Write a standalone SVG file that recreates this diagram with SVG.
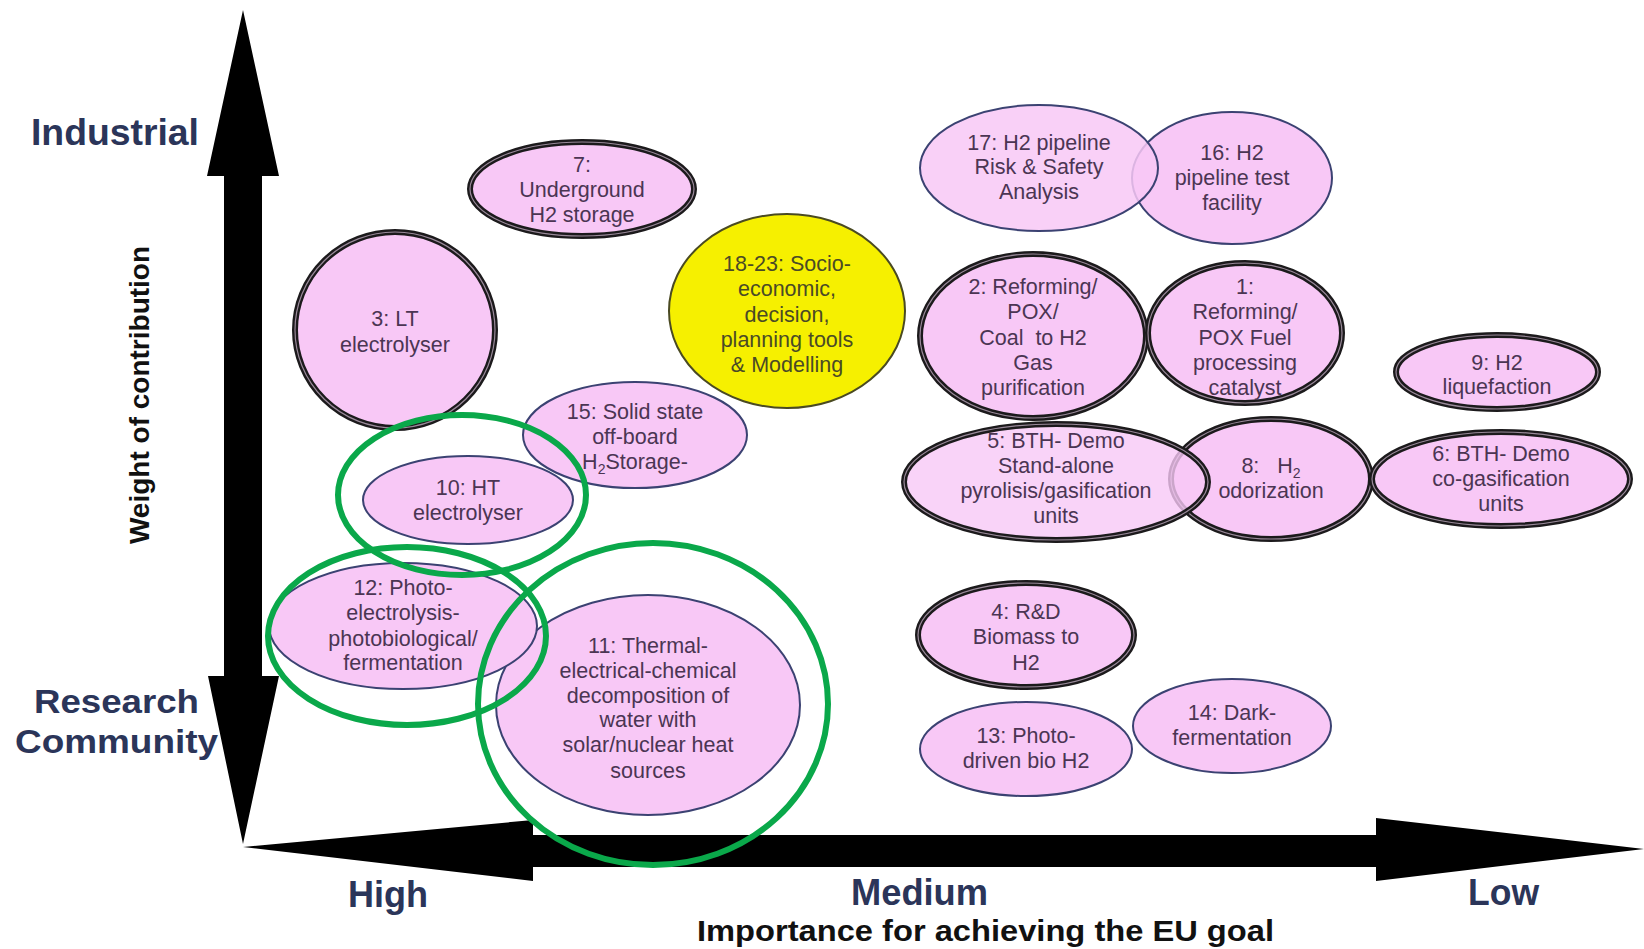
<svg xmlns="http://www.w3.org/2000/svg" width="1644" height="949" viewBox="0 0 1644 949">
<style>
.bg{fill:#ffffff}
.p{fill:#f8c8f6}
.thin{stroke:#3b4272;stroke-width:2}
.dbl{stroke:#1c1a1c;stroke-width:6}
.dbl2{fill:none;stroke:#9a8a9a;stroke-width:1.2}
.y{fill:#f6f000;stroke:#4a4a22;stroke-width:2}
.g{fill:none;stroke:#0aa84a;stroke-width:6}
.t{font-family:"Liberation Sans",Arial,sans-serif;font-size:21.5px;fill:#4b3553;text-anchor:middle}
.ty{font-family:"Liberation Sans",Arial,sans-serif;font-size:21.5px;fill:#4a4a26;text-anchor:middle}
.lab{font-family:"Liberation Sans",Arial,sans-serif;font-weight:bold;fill:#2b3559}
.ax{font-family:"Liberation Sans",Arial,sans-serif;font-weight:bold;fill:#111111}
</style>
<rect class="bg" x="0" y="0" width="1644" height="949"/>
<g id="connectors">
<polygon fill="#000" points="243,10 279,176 262,176 262,676 279,676 243,844 208,676 224,676 224,176 207,176"/>
<polygon fill="#000" points="243,847 533,820 533,835 1376,835 1376,818 1644,849 1376,881 1376,867 533,867 533,881"/>
</g>
<g id="labels">
<text class="lab" x="31" y="145" font-size="36" textLength="168" lengthAdjust="spacingAndGlyphs">Industrial</text>
<text class="lab" x="34" y="713" font-size="34" textLength="165" lengthAdjust="spacingAndGlyphs">Research</text>
<text class="lab" x="15" y="753" font-size="34" textLength="203" lengthAdjust="spacingAndGlyphs">Community</text>
<text class="ax" transform="translate(149,395) rotate(-90)" font-size="28" text-anchor="middle">Weight of contribution</text>
<text class="lab" x="348" y="907" font-size="37" textLength="80" lengthAdjust="spacingAndGlyphs">High</text>
<text class="lab" x="851" y="905" font-size="37" textLength="137" lengthAdjust="spacingAndGlyphs">Medium</text>
<text class="lab" x="1468" y="905" font-size="37" textLength="71" lengthAdjust="spacingAndGlyphs">Low</text>
<text class="ax" x="697" y="941" font-size="30" textLength="577" lengthAdjust="spacingAndGlyphs">Importance for achieving the EU goal</text>
</g>
<g id="n7">
<ellipse class="p dbl" cx="582" cy="189" rx="112" ry="47"/><ellipse class="dbl2" cx="582" cy="189" rx="112" ry="47"/>
<text class="t"><tspan x="582" y="172">7:</tspan><tspan x="582" y="197">Underground</tspan><tspan x="582" y="222">H2 storage</tspan></text>
</g>
<g id="n3">
<ellipse class="p dbl" cx="395" cy="330" rx="100" ry="98"/><ellipse class="dbl2" cx="395" cy="330" rx="100" ry="98"/>
<text class="t"><tspan x="395" y="326">3: LT</tspan><tspan x="395" y="352">electrolyser</tspan></text>
</g>
<g id="n18">
<ellipse class="y" cx="787" cy="311" rx="118" ry="97"/>
<text class="ty"><tspan x="787" y="271">18-23: Socio-</tspan><tspan x="787" y="296">economic,</tspan><tspan x="787" y="322">decision,</tspan><tspan x="787" y="347">planning tools</tspan><tspan x="787" y="372">&amp; Modelling</tspan></text>
</g>
<g id="n15">
<ellipse class="p thin" cx="635" cy="435" rx="112" ry="53"/>
<text class="t"><tspan x="635" y="419">15: Solid state</tspan><tspan x="635" y="444">off-board</tspan><tspan x="635" y="469">H<tspan font-size="14" dy="5">2</tspan><tspan dy="-5">Storage-</tspan></tspan></text>
</g>
<g id="n10">
<ellipse class="p thin" cx="468" cy="500" rx="105" ry="44"/>
<text class="t"><tspan x="468" y="495">10: HT</tspan><tspan x="468" y="520">electrolyser</tspan></text>
</g>
<g id="n11">
<ellipse class="p thin" cx="648" cy="705" rx="152" ry="110"/>
<text class="t"><tspan x="648" y="653">11: Thermal-</tspan><tspan x="648" y="678">electrical-chemical</tspan><tspan x="648" y="703">decomposition of</tspan><tspan x="648" y="727">water with</tspan><tspan x="648" y="752">solar/nuclear heat</tspan><tspan x="648" y="778">sources</tspan></text>
</g>
<g id="n12">
<ellipse class="p thin" cx="403" cy="626" rx="134" ry="63"/>
<text class="t"><tspan x="403" y="595">12: Photo-</tspan><tspan x="403" y="620">electrolysis-</tspan><tspan x="403" y="646">photobiological/</tspan><tspan x="403" y="670">fermentation</tspan></text>
</g>
<g id="n16">
<ellipse class="p thin" cx="1232" cy="178" rx="100" ry="66"/>
<text class="t"><tspan x="1232" y="160">16: H2</tspan><tspan x="1232" y="185">pipeline test</tspan><tspan x="1232" y="210">facility</tspan></text>
</g>
<g id="n17">
<ellipse class="p thin" cx="1039" cy="168" rx="119" ry="63" fill-opacity="0.85"/>
<text class="t"><tspan x="1039" y="150">17: H2 pipeline</tspan><tspan x="1039" y="174">Risk &amp; Safety</tspan><tspan x="1039" y="199">Analysis</tspan></text>
</g>
<g id="n2">
<ellipse class="p dbl" cx="1033" cy="336" rx="113" ry="82"/><ellipse class="dbl2" cx="1033" cy="336" rx="113" ry="82"/>
<text class="t"><tspan x="1033" y="294">2: Reforming/</tspan><tspan x="1033" y="319">POX/</tspan><tspan x="1033" y="345">Coal&#160; to H2</tspan><tspan x="1033" y="370">Gas</tspan><tspan x="1033" y="395">purification</tspan></text>
</g>
<g id="n1">
<ellipse class="p dbl" cx="1245" cy="333" rx="97" ry="70"/><ellipse class="dbl2" cx="1245" cy="333" rx="97" ry="70"/>
<text class="t"><tspan x="1245" y="294">1:</tspan><tspan x="1245" y="319">Reforming/</tspan><tspan x="1245" y="345">POX Fuel</tspan><tspan x="1245" y="370">processing</tspan><tspan x="1245" y="395">catalyst</tspan></text>
</g>
<g id="n9">
<ellipse class="p dbl" cx="1497" cy="372" rx="101" ry="37"/><ellipse class="dbl2" cx="1497" cy="372" rx="101" ry="37"/>
<text class="t"><tspan x="1497" y="370">9: H2</tspan><tspan x="1497" y="394">liquefaction</tspan></text>
</g>
<g id="n8">
<ellipse class="p dbl" cx="1271" cy="479" rx="100" ry="60"/><ellipse class="dbl2" cx="1271" cy="479" rx="100" ry="60"/>
<text class="t"><tspan x="1271" y="473">8:&#160;&#160; H<tspan font-size="14" dy="5">2</tspan></tspan><tspan x="1271" y="498">odorization</tspan></text>
</g>
<g id="n5">
<ellipse class="p" cx="1056" cy="482" rx="152" ry="58" fill-opacity="0.8"/>
<ellipse class="dbl" fill="none" cx="1056" cy="482" rx="152" ry="58"/><ellipse class="dbl2" cx="1056" cy="482" rx="152" ry="58"/>
<text class="t"><tspan x="1056" y="448">5: BTH- Demo</tspan><tspan x="1056" y="473">Stand-alone</tspan><tspan x="1056" y="498">pyrolisis/gasification</tspan><tspan x="1056" y="523">units</tspan></text>
</g>
<g id="n6">
<ellipse class="p dbl" cx="1501" cy="479" rx="129" ry="47"/><ellipse class="dbl2" cx="1501" cy="479" rx="129" ry="47"/>
<text class="t"><tspan x="1501" y="461">6: BTH- Demo</tspan><tspan x="1501" y="486">co-gasification</tspan><tspan x="1501" y="511">units</tspan></text>
</g>
<g id="n4">
<ellipse class="p dbl" cx="1026" cy="635" rx="108" ry="52"/><ellipse class="dbl2" cx="1026" cy="635" rx="108" ry="52"/>
<text class="t"><tspan x="1026" y="619">4: R&amp;D</tspan><tspan x="1026" y="644">Biomass to</tspan><tspan x="1026" y="670">H2</tspan></text>
</g>
<g id="n13">
<ellipse class="p thin" cx="1026" cy="749" rx="106" ry="47"/>
<text class="t"><tspan x="1026" y="743">13: Photo-</tspan><tspan x="1026" y="768">driven bio H2</tspan></text>
</g>
<g id="n14">
<ellipse class="p thin" cx="1232" cy="726" rx="99" ry="47"/>
<text class="t"><tspan x="1232" y="720">14: Dark-</tspan><tspan x="1232" y="745">fermentation</tspan></text>
</g>
<g id="highlights">
<ellipse class="g" cx="462" cy="495" rx="124" ry="80"/>
<ellipse class="g" cx="407" cy="636" rx="139" ry="89"/>
<ellipse class="g" cx="653" cy="704" rx="175" ry="161"/>
</g>
</svg>
